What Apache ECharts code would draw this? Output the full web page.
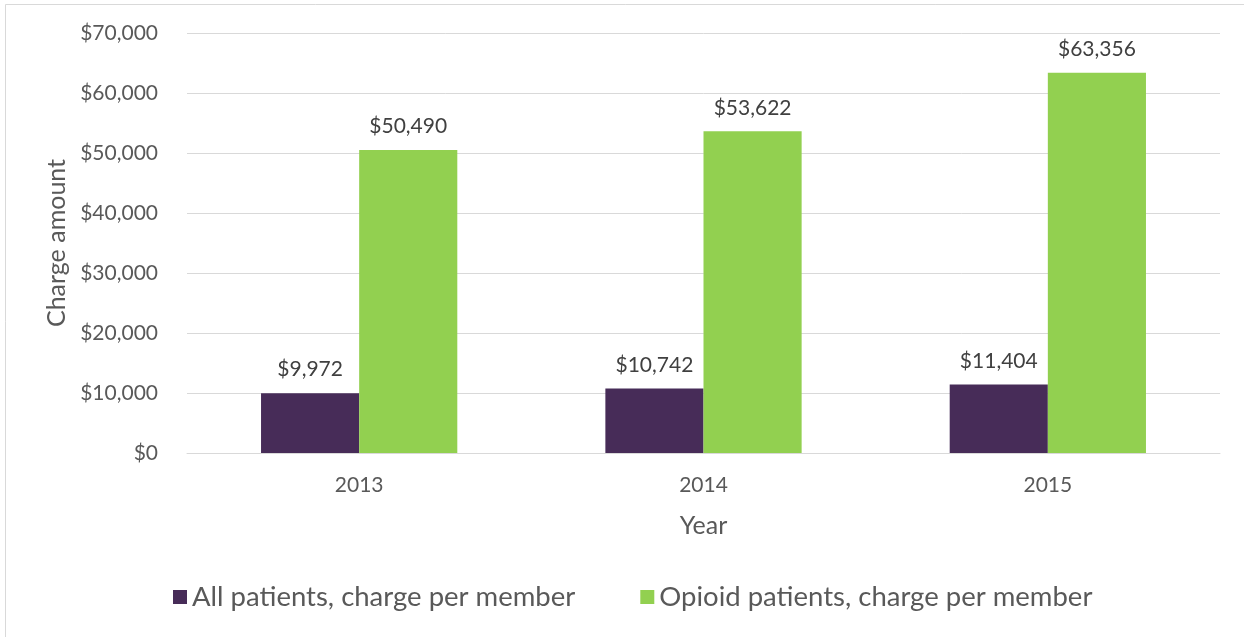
<!DOCTYPE html>
<html><head><meta charset="utf-8">
<script src="https://cdn.jsdelivr.net/npm/echarts@6/dist/echarts.min.js"></script>
<style>html,body{margin:0;padding:0;background:#fff}#c{width:1244px;height:637px}</style>
</head><body><div id="c"></div>
<script>
var years = ['2013', '2014', '2015'];
var allPatients = [9972, 10742, 11404];
var opioidPatients = [50490, 53622, 63356];
var seriesNames = ['All patients, charge per member', 'Opioid patients, charge per member'];

var fam = 'Lato, "Open Sans", sans-serif';
function money(v){ return '$' + Number(v).toLocaleString('en-US'); }
var chart = echarts.init(document.getElementById('c'));
chart.setOption({
  animation: false,
  backgroundColor: '#fff',
  textStyle: {fontFamily: fam},
  graphic: [{type:'rect', shape:{x:5.5,y:4.5,width:1250,height:640}, style:{fill:'none', stroke:'#d9d9d9', lineWidth:1}, silent:true}],
  grid: {left: 187, right: 24, top: 33, bottom: 184, containLabel: false},
  legend: {
    top: 578, left: 168, itemWidth: 14, itemHeight: 14, itemGap: 65,
    icon: 'rect',
    textStyle: {fontSize: 27.5, color: '#595959', fontFamily: fam}
  },
  xAxis: {
    type: 'category', data: years,
    name: 'Year', nameLocation: 'middle', nameGap: 60,
    nameTextStyle: {fontSize: 25, color: '#595959'},
    axisLine: {lineStyle: {color: '#d9d9d9'}}, axisTick: {show: false},
    axisLabel: {fontSize: 21, color: '#595959', margin: 22}
  },
  yAxis: {
    type: 'value', min: 0, max: 70000, interval: 10000,
    name: 'Charge amount', nameLocation: 'middle', nameGap: 116, nameRotate: 90,
    nameTextStyle: {fontSize: 25, color: '#595959'},
    axisLine: {show: false}, axisTick: {show: false},
    splitLine: {lineStyle: {color: '#d9d9d9', width: 1}},
    axisLabel: {fontSize: 21, color: '#595959', margin: 29, formatter: money}
  },
  series: [
    {name: seriesNames[0], type: 'bar', data: allPatients, barGap: '0%', barCategoryGap: '43%',
     itemStyle: {color: '#472c58'},
     label: {show: true, position: 'top', distance: 13, fontSize: 21, color: '#404040', formatter: function(p){return money(p.value);}}},
    {name: seriesNames[1], type: 'bar', data: opioidPatients, barGap: '0%', barCategoryGap: '43%',
     itemStyle: {color: '#92d050'},
     label: {show: true, position: 'top', distance: 13, fontSize: 21, color: '#404040', formatter: function(p){return money(p.value);}}}
  ]
});
</script></body></html>
